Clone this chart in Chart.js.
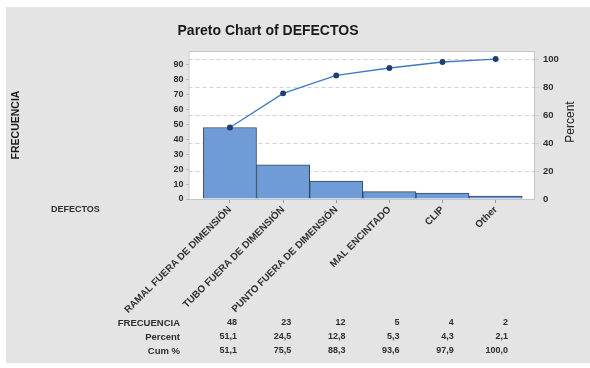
<!DOCTYPE html>
<html>
<head>
<meta charset="utf-8">
<script src="https://cdn.jsdelivr.net/npm/chart.js@4/dist/chart.umd.min.js"></script>
<style>
  html, body { margin: 0; padding: 0; background: #fff; }
  #wrap { width: 590px; height: 368px; }
</style>
</head>
<body>
<div id="wrap"><canvas id="chart-pareto"></canvas></div>
<script>
// Pareto chart of defects (Minitab style)
const defectos = ['RAMAL FUERA DE DIMENSIÓN', 'TUBO FUERA DE DIMENSIÓN', 'PUNTO FUERA DE DIMENSIÓN', 'MAL ENCINTADO', 'CLIP', 'Other'];
const frecuencia = [48, 23, 12, 5, 4, 2];
const percent = ['51,1', '24,5', '12,8', '5,3', '4,3', '2,1'];
const cumPercent = [51.1, 75.5, 88.3, 93.6, 97.9, 100.0];
const leftTicks = [0, 10, 20, 30, 40, 50, 60, 70, 80, 90];
const rightTicks = [0, 20, 40, 60, 80, 100];

const total = frecuencia.reduce((a, b) => a + b, 0);
const leftMax = 99.4;
const rightMax = leftMax * 100 / total;

const FONT = '"Liberation Sans", Arial, sans-serif';
const TEXT = '#2e2e2e';
const fmt = v => v.toFixed(1).replace('.', ',');

const decor = {
    id: 'decor',
    beforeDraw(chart) {
        const { ctx, chartArea: a } = chart;
        ctx.save();
        ctx.fillStyle = '#ffffff';
        ctx.fillRect(0, 0, chart.width, chart.height);
        ctx.fillStyle = '#e4e4e4';
        ctx.fillRect(6, 7, chart.width - 6, 356);
        ctx.fillStyle = '#ffffff';
        ctx.fillRect(a.left, a.top, a.right - a.left, a.bottom - a.top);
        ctx.restore();
    },
    beforeDatasetsDraw(chart) {
        const { ctx, chartArea: a } = chart;
        ctx.save();
        ctx.strokeStyle = '#c4c4c4';
        ctx.lineWidth = 1;
        ctx.strokeRect(a.left + 0.5, a.top + 0.5, a.right - a.left - 1, a.bottom - a.top);
        ctx.restore();
    },
    afterDraw(chart) {
        const { ctx } = chart;
        ctx.save();
        ctx.fillStyle = '#1a1a1a';
        ctx.textBaseline = 'middle';

        // title
        ctx.font = 'bold 14px ' + FONT;
        ctx.textAlign = 'center';
        ctx.fillText('Pareto Chart of DEFECTOS', 268, 31);

        // right axis title, reads upward
        ctx.save();
        ctx.translate(571, 122);
        ctx.rotate(-Math.PI / 2);
        ctx.font = '12px ' + FONT;
        ctx.fillText('Percent', 0, 0);
        ctx.restore();

        // category name
        ctx.fillStyle = TEXT;
        ctx.font = 'bold 9px ' + FONT;
        ctx.textAlign = 'left';
        ctx.fillText('DEFECTOS', 51, 210);

        // table under the chart
        const rows = [
            ['FRECUENCIA', frecuencia.map(String)],
            ['Percent', percent],
            ['Cum %', cumPercent.map(fmt)],
        ];
        rows.forEach((r, j) => {
            const y = 323 + j * 14;
            ctx.font = 'bold 9.5px ' + FONT;
            ctx.textAlign = 'right';
            ctx.fillText(r[0], 180, y);
            ctx.font = 'bold 9px ' + FONT;
            r[1].forEach((v, i) => ctx.fillText(v, 237 + i * 54.2, y));
        });
        ctx.restore();
    },
};

new Chart(document.getElementById('chart-pareto'), {
    type: 'bar',
    data: {
        datasets: [
            {
                type: 'line',
                label: 'Cum %',
                data: cumPercent.map((v, i) => ({ x: i, y: v })),
                yAxisID: 'y2',
                borderColor: '#3e7ac4',
                borderWidth: 1.3,
                pointRadius: 2.3,
                pointBackgroundColor: '#1f3f72',
                pointBorderColor: '#1f3f72',
                tension: 0,
                order: 0,
            },
            {
                label: 'FRECUENCIA',
                data: frecuencia.map((v, i) => ({ x: i, y: v })),
                yAxisID: 'y',
                backgroundColor: '#6f9bd6',
                borderColor: '#34475f',
                borderWidth: 1,
                barPercentage: 1,
                categoryPercentage: 1,
                order: 1,
            },
        ],
    },
    options: {
        responsive: true,
        maintainAspectRatio: false,
        animation: false,
        layout: { padding: { top: 51, left: 0, right: 0, bottom: 0 } },
        plugins: {
            legend: { display: false },
            tooltip: { enabled: false },
        },
        scales: {
            x: {
                type: 'linear',
                offset: false,
                min: -0.78,
                max: 5.74,
                afterBuildTicks: s => { s.ticks = defectos.map((c, i) => ({ value: i })); },
                afterFit: s => { s.height = 169; },
                ticks: {
                    autoSkip: false,
                    minRotation: 45,
                    maxRotation: 45,
                    padding: 1,
                    color: TEXT,
                    font: { family: FONT, size: 9.8, weight: 'bold' },
                    callback: v => defectos[v],
                },
                grid: { display: true, offset: false, drawOnChartArea: false, tickLength: 4, color: '#9a9a9a' },
                border: { display: false },
            },
            y: {
                position: 'left',
                min: 0,
                max: leftMax,
                afterBuildTicks: s => { s.ticks = leftTicks.map(v => ({ value: v })); },
                afterFit: s => { s.width = 188.5; },
                ticks: {
                    padding: 3,
                    color: TEXT,
                    font: { family: FONT, size: 9, weight: 'bold' },
                },
                grid: { display: true, drawOnChartArea: false, tickLength: 2, color: '#b0b0b0' },
                border: { display: false },
                title: {
                    display: true,
                    text: 'FRECUENCIA',
                    color: '#1a1a1a',
                    font: { family: FONT, size: 10.5, weight: 'bold' },
                    padding: { top: 10, bottom: 0 },
                },
            },
            y2: {
                position: 'right',
                min: 0,
                max: rightMax,
                afterBuildTicks: s => { s.ticks = rightTicks.map(v => ({ value: v })); },
                afterFit: s => { s.width = 55; },
                ticks: {
                    padding: 4,
                    color: TEXT,
                    font: { family: FONT, size: 9.5, weight: 'bold' },
                },
                grid: {
                    display: true,
                    drawOnChartArea: true,
                    tickLength: 4,
                    color: ctx => ctx.tick && ctx.tick.value === 0 ? 'rgba(0,0,0,0)' : '#d2d2d2',
                },
                border: { display: false, dash: [4, 3] },
            },
        },
    },
    plugins: [decor],
});
</script>
</body>
</html>
